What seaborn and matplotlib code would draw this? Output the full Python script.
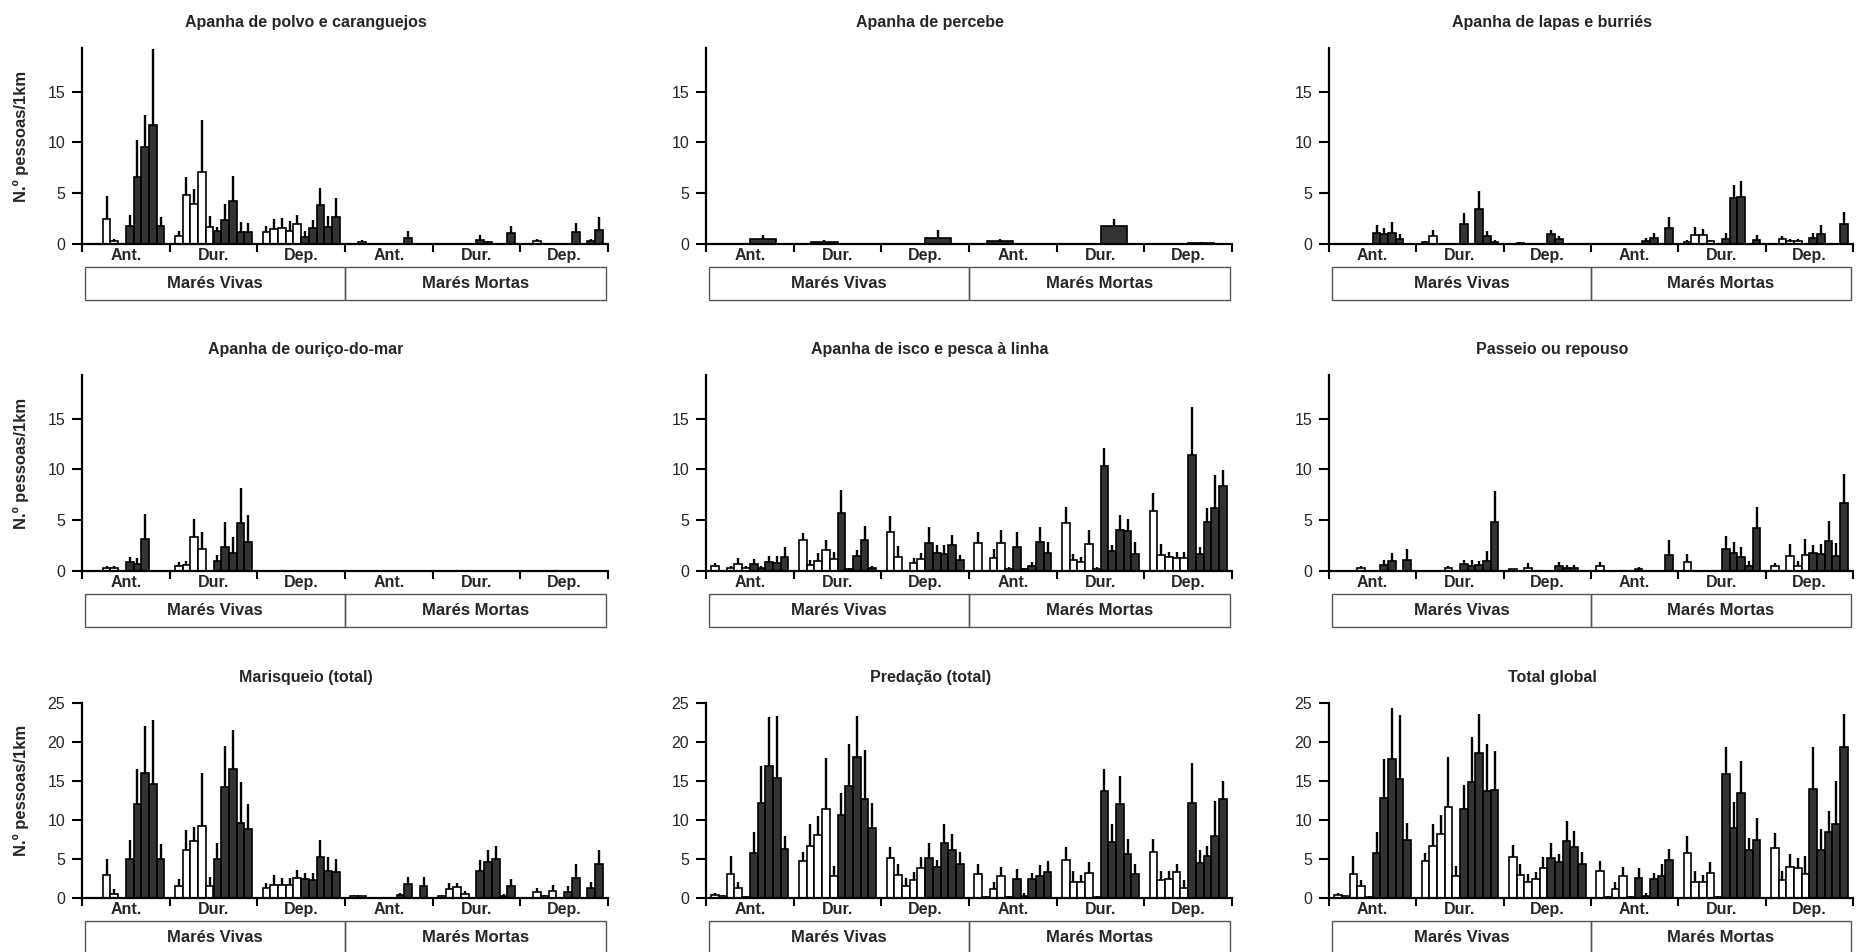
import numpy as np
import pandas as pd
import matplotlib
matplotlib.use("Agg")
import matplotlib.pyplot as plt
import matplotlib.transforms as mtrans
from matplotlib.patches import Rectangle
import seaborn as sns

# ---------------- data ----------------
PERIODOS = ["Ant.", "Dur.", "Dep.", "Ant.", "Dur.", "Dep."]
MARES = ["Marés Vivas", "Marés Mortas"]
TIPO_10 = ["claro"] * 5 + ["escuro"] * 5
TIPO_2 = ["escuro", "escuro"]
YLABEL = "N.º pessoas/1km"

TITULOS = [
    "Apanha de polvo e caranguejos", "Apanha de percebe", "Apanha de lapas e burriés",
    "Apanha de ouriço-do-mar", "Apanha de isco e pesca à linha", "Passeio ou repouso",
    "Marisqueio (total)", "Predação (total)", "Total global",
]

polvo_media = [[0, 0, 2.5, 0.3, 0, 1.8, 6.6, 9.6, 11.7, 1.8],
               [0.8, 4.8, 3.9, 7.1, 1.7, 1.3, 2.4, 4.2, 1.2, 1.2],
               [1.2, 1.5, 1.6, 1.3, 2.0, 0.7, 1.6, 3.8, 1.7, 2.7],
               [0, 0.15, 0, 0, 0, 0, 0, 0.6, 0, 0],
               [0, 0, 0, 0, 0, 0.4, 0.2, 0, 0, 1.1],
               [0, 0.25, 0, 0, 0, 0, 1.2, 0, 0.3, 1.4]]
polvo_erro = [[0, 0, 4.7, 0.5, 0, 2.9, 10.2, 12.7, 19.2, 2.7],
              [1.3, 6.6, 5.4, 12.2, 2.8, 1.7, 3.9, 6.7, 2.2, 2.1],
              [1.8, 2.5, 2.6, 2.3, 2.9, 1.3, 2.4, 5.5, 2.8, 4.5],
              [0, 0.35, 0, 0, 0, 0, 0, 1.3, 0, 0],
              [0, 0, 0, 0, 0, 0.9, 0.3, 0, 0, 1.8],
              [0, 0.5, 0, 0, 0, 0, 2.1, 0, 0.5, 2.7]]

percebe_media = [[0, 0.47], [0.23, 0], [0, 0.63], [0.27, 0], [0, 1.73], [0, 0.13]]
percebe_erro = [[0, 0.9], [0.4, 0], [0, 1.33], [0.53, 0], [0, 2.46], [0, 0.23]]

lapas_media = [[0, 0, 0, 0, 0, 1.13, 1.0, 1.06, 0.5, 0],
               [0.2, 0.76, 0, 0, 0, 2.0, 0, 3.45, 0.83, 0.23],
               [0, 0.1, 0, 0, 0, 1.0, 0.5, 0, 0, 0],
               [0, 0, 0, 0, 0, 0, 0.3, 0.6, 0, 1.6],
               [0.2, 0.9, 0.9, 0.25, 0, 0.5, 4.5, 4.6, 0, 0.4],
               [0, 0.5, 0.3, 0.3, 0, 0.6, 1.0, 0, 0, 2.0]]
lapas_erro = [[0, 0, 0, 0, 0, 1.86, 1.6, 2.2, 1.0, 0],
              [0.3, 1.33, 0, 0, 0, 3.1, 0, 5.25, 1.3, 0.4],
              [0, 0.23, 0, 0, 0, 1.36, 0.76, 0, 0, 0],
              [0, 0, 0, 0, 0, 0, 0.6, 1.1, 0, 2.7],
              [0.4, 1.7, 1.45, 0.4, 0, 1.1, 5.85, 6.2, 0, 0.9],
              [0, 0.75, 0.5, 0.45, 0, 1.1, 1.9, 0, 0, 3.2]]

ourico_media = [[0, 0, 0.3, 0.3, 0, 0.9, 0.7, 3.2, 0, 0],
                [0.5, 0.6, 3.3, 2.2, 0, 1.0, 2.4, 1.8, 4.7, 2.9],
                [0] * 10, [0] * 10, [0] * 10, [0] * 10]
ourico_erro = [[0, 0, 0.5, 0.5, 0, 1.4, 1.3, 5.6, 0, 0],
               [0.9, 1.0, 5.1, 3.8, 0, 1.6, 4.8, 3.3, 8.2, 5.5],
               [0] * 10, [0] * 10, [0] * 10, [0] * 10]

isco_media = [[0.5, 0, 0.25, 0.7, 0.3, 0.7, 0.3, 0.9, 0.8, 1.4],
              [3.1, 0.6, 1.0, 2.1, 1.2, 5.7, 0.2, 1.5, 3.1, 0.3],
              [3.8, 1.4, 0, 0.8, 1.2, 2.8, 1.8, 1.7, 2.6, 1.1],
              [2.8, 0, 1.3, 2.8, 0.2, 2.4, 0.2, 0.5, 2.9, 1.8],
              [4.7, 1.1, 0.9, 2.7, 0.2, 10.3, 2.0, 4.0, 3.9, 1.7],
              [5.9, 1.6, 1.4, 1.3, 1.3, 11.4, 1.7, 4.8, 6.2, 8.4]]
isco_erro = [[0.8, 0, 0.5, 1.3, 0.5, 1.2, 0.5, 1.5, 1.5, 2.4],
             [3.7, 1.1, 1.8, 3.1, 1.9, 8.0, 0.3, 2.1, 4.4, 0.5],
             [5.4, 2.5, 0, 1.3, 1.8, 4.3, 2.6, 2.6, 3.5, 1.6],
             [3.8, 0, 2.2, 4.0, 0.4, 3.8, 0.3, 0.9, 4.3, 2.9],
             [6.3, 1.7, 1.4, 4.0, 0.4, 12.1, 2.6, 5.5, 5.1, 2.9],
             [7.7, 2.7, 1.9, 1.9, 1.9, 16.1, 2.4, 6.2, 9.5, 9.9]]

passeio_media = [[0, 0, 0, 0.25, 0, 0, 0.6, 1.0, 0, 1.1],
                 [0, 0, 0, 0.25, 0, 0.7, 0.5, 0.6, 1.0, 4.8],
                 [0.15, 0, 0.3, 0, 0, 0, 0.5, 0.3, 0.3, 0],
                 [0.45, 0, 0, 0, 0, 0.2, 0, 0, 0, 1.6],
                 [0.9, 0, 0, 0, 0, 2.2, 1.8, 1.4, 0.45, 4.2],
                 [0.5, 0, 1.5, 0.5, 1.6, 1.8, 1.7, 3.0, 1.5, 6.7]]
passeio_erro = [[0, 0, 0, 0.5, 0, 0, 1.1, 1.8, 0, 2.2],
                [0, 0, 0, 0.5, 0, 1.1, 1.1, 1.0, 2.0, 7.9],
                [0.2, 0, 0.8, 0, 0, 0, 0.9, 0.6, 0.6, 0],
                [0.9, 0, 0, 0, 0, 0.4, 0, 0, 0, 3.1],
                [1.7, 0, 0, 0, 0, 3.4, 2.9, 2.4, 1.0, 6.3],
                [0.8, 0, 2.7, 1.0, 3.2, 2.6, 2.7, 4.9, 2.8, 9.6]]

marisqueio_media = [[0, 0, 2.9, 0.5, 0, 5.0, 12.1, 16.0, 14.6, 5.0],
                    [1.6, 6.2, 7.3, 9.2, 1.6, 5.0, 14.2, 16.6, 9.6, 8.8],
                    [1.3, 1.7, 1.7, 1.7, 2.6, 2.4, 2.3, 5.2, 3.5, 3.3],
                    [0.3, 0.2, 0, 0, 0, 0, 0.4, 1.8, 0, 1.6],
                    [0.3, 1.2, 1.4, 0.5, 0, 3.4, 4.6, 5.0, 0.3, 1.5],
                    [0, 0.8, 0.3, 0.9, 0, 0.8, 2.6, 0, 1.3, 4.3]]
marisqueio_erro = [[0, 0, 5.0, 1.2, 0, 7.4, 16.6, 22.0, 22.8, 6.9],
                   [2.5, 8.7, 9.1, 16.0, 2.7, 7.1, 19.5, 21.5, 14.9, 12.1],
                   [1.9, 2.9, 2.6, 2.6, 3.6, 3.2, 3.2, 7.4, 5.2, 5.0],
                   [0.4, 0.3, 0, 0, 0, 0, 0.6, 2.7, 0, 2.7],
                   [0.4, 1.9, 1.9, 0.9, 0, 4.9, 6.2, 6.7, 0.5, 2.5],
                   [0, 1.3, 0.4, 1.7, 0, 1.5, 4.3, 0, 2.0, 6.2]]

predacao_media = [[0.4, 0.2, 3.1, 1.3, 0.15, 5.8, 12.2, 16.9, 15.4, 6.3],
                  [4.7, 6.7, 8.1, 11.4, 2.8, 10.6, 14.3, 18.1, 12.7, 9.0],
                  [5.1, 3.0, 1.6, 2.3, 3.8, 5.1, 4.0, 7.0, 6.2, 4.3],
                  [3.1, 0.1, 1.2, 2.8, 0.15, 2.5, 0.3, 2.4, 2.8, 3.3],
                  [4.9, 2.1, 2.1, 3.2, 0.15, 13.7, 7.2, 12.0, 5.7, 3.1],
                  [5.9, 2.3, 2.4, 3.3, 1.3, 12.2, 4.5, 5.4, 7.9, 12.7]]
predacao_erro = [[0.7, 0.4, 5.4, 2.0, 0.2, 8.4, 16.9, 23.2, 23.3, 7.9],
                 [5.9, 9.5, 10.5, 17.9, 4.1, 13.5, 19.8, 23.3, 19.0, 12.2],
                 [6.6, 4.3, 2.6, 3.3, 5.2, 7.0, 4.9, 9.5, 8.2, 5.9],
                 [4.3, 0.2, 2.1, 4.0, 0.2, 3.7, 0.6, 3.2, 4.2, 4.7],
                 [6.5, 3.5, 3.0, 4.6, 0.3, 16.5, 9.5, 15.6, 7.6, 4.3],
                 [7.6, 3.5, 3.4, 4.3, 2.3, 17.3, 6.2, 6.7, 12.4, 15.0]]

total_media = [[0.4, 0.2, 3.1, 1.5, 0.15, 5.8, 12.8, 17.8, 15.3, 7.4],
               [4.7, 6.7, 8.2, 11.7, 2.8, 11.4, 14.9, 18.6, 13.7, 13.8],
               [5.2, 3.0, 2.1, 2.4, 3.8, 5.1, 4.6, 7.3, 6.6, 4.4],
               [3.5, 0.1, 1.2, 2.8, 0.1, 2.6, 0.3, 2.4, 2.8, 4.9],
               [5.8, 2.1, 2.1, 3.2, 0.15, 15.9, 9.0, 13.4, 6.1, 7.4],
               [6.4, 2.3, 4.0, 3.8, 3.1, 14.0, 6.2, 8.4, 9.5, 19.4]]
total_erro = [[0.7, 0.3, 5.4, 2.3, 0.2, 8.4, 17.8, 24.4, 23.4, 9.6],
              [5.8, 9.5, 10.6, 18.1, 4.1, 14.5, 20.6, 23.6, 19.7, 18.8],
              [6.8, 4.4, 3.1, 3.3, 5.2, 7.1, 5.6, 9.9, 8.6, 5.9],
              [4.7, 0.2, 2.1, 4.0, 0.2, 3.9, 0.6, 3.2, 4.3, 6.3],
              [7.9, 3.5, 3.0, 4.6, 0.3, 19.4, 12.3, 17.6, 7.7, 10.2],
              [8.3, 3.5, 5.6, 5.1, 5.4, 19.4, 8.9, 11.2, 15.0, 23.6]]

YMAX_SUP = 19.3
YMAX_INF = 25
YTICKS_SUP = [0, 5, 10, 15]
YTICKS_INF = [0, 5, 10, 15, 20, 25]

PAINEIS = [
    (polvo_media, polvo_erro, TIPO_10, YMAX_SUP, YTICKS_SUP),
    (percebe_media, percebe_erro, TIPO_2, YMAX_SUP, YTICKS_SUP),
    (lapas_media, lapas_erro, TIPO_10, YMAX_SUP, YTICKS_SUP),
    (ourico_media, ourico_erro, TIPO_10, YMAX_SUP, YTICKS_SUP),
    (isco_media, isco_erro, TIPO_10, YMAX_SUP, YTICKS_SUP),
    (passeio_media, passeio_erro, TIPO_10, YMAX_SUP, YTICKS_SUP),
    (marisqueio_media, marisqueio_erro, TIPO_10, YMAX_INF, YTICKS_INF),
    (predacao_media, predacao_erro, TIPO_10, YMAX_INF, YTICKS_INF),
    (total_media, total_erro, TIPO_10, YMAX_INF, YTICKS_INF),
]

# ---------------- style ----------------
sns.set_theme(style="ticks")
plt.rcParams["font.family"] = ["Liberation Sans", "DejaVu Sans"]

FIG_W, FIG_H = 1857, 952
fig = plt.figure(figsize=(FIG_W / 100, FIG_H / 100), dpi=100)

col_left = [82, 706, 1329]
col_width = [526, 526, 524]
row_zero = [244, 571, 898]
row_height = [196, 196, 195]

PALETA = {"claro": "white", "escuro": "#333333"}

for i, (titulo, (media, erro, tipos, ymax, yticks)) in enumerate(zip(TITULOS, PAINEIS)):
    r, c = divmod(i, 3)
    ax = fig.add_axes([col_left[c] / FIG_W, (FIG_H - row_zero[r]) / FIG_H,
                       col_width[c] / FIG_W, row_height[r] / FIG_H])
    n = len(tipos)
    slot = 0.088 if n == 10 else 0.3
    rows = []
    for g in range(6):
        for s in range(n):
            rows.append({"x": g + (s - (n - 1) / 2) * slot,
                         "valor": media[g][s], "erro": erro[g][s], "tipo": tipos[s]})
    df = pd.DataFrame(rows)

    sns.barplot(data=df, x="x", y="valor", hue="tipo", hue_order=["claro", "escuro"],
                palette=PALETA, native_scale=True, dodge=False, errorbar=None,
                width=1.0, edgecolor="black", linewidth=1.2, legend=False, ax=ax,
                zorder=2)
    m = df["erro"] > df["valor"]
    ax.vlines(df.loc[m, "x"], df.loc[m, "valor"], df.loc[m, "erro"],
              colors="black", linewidth=1.7, zorder=3)

    ax.set_xlim(-0.5, 5.5)
    ax.set_ylim(0, ymax)
    ax.set_yticks(yticks)
    ax.set_xticks(range(6))
    ax.set_xticklabels(PERIODOS, fontweight="bold", fontsize=11.5)
    ax.set_xticks(np.arange(-0.5, 6, 1), minor=True)
    ax.tick_params(axis="x", which="major", length=0, pad=3)
    ax.tick_params(axis="x", which="minor", length=6, width=1.5, direction="out",
                   color="black", bottom=True)
    ax.tick_params(axis="y", length=7, width=1.5, direction="out", labelsize=11.5,
                   pad=5, color="black", left=True)
    for sp in ["top", "right"]:
        ax.spines[sp].set_visible(False)
    for sp in ["left", "bottom"]:
        ax.spines[sp].set_linewidth(1.6)
        ax.spines[sp].set_color("black")
    ax.set_xlabel("")
    if c == 0:
        ax.set_ylabel(YLABEL, fontweight="bold", fontsize=12)
        ax.yaxis.set_label_coords(-0.10, 0.55)
    else:
        ax.set_ylabel("")
    ax.set_title(titulo, fontweight="bold", fontsize=11.5, x=0.426, pad=15)

    trans = mtrans.blended_transform_factory(ax.transData, ax.transAxes)
    box_top = -0.117
    box_h = 0.168
    for k, (x0, x1) in enumerate([(-0.464, 2.5), (2.5, 5.476)]):
        ax.add_patch(Rectangle((x0, box_top - box_h), x1 - x0, box_h, transform=trans,
                               fill=False, edgecolor="#555555", linewidth=1.0,
                               clip_on=False))
        ax.text((x0 + x1) / 2, box_top - box_h / 2 - 0.003, MARES[k], transform=trans,
                ha="center", va="center", fontweight="bold", fontsize=12)

fig.savefig("out.png", dpi=100)
